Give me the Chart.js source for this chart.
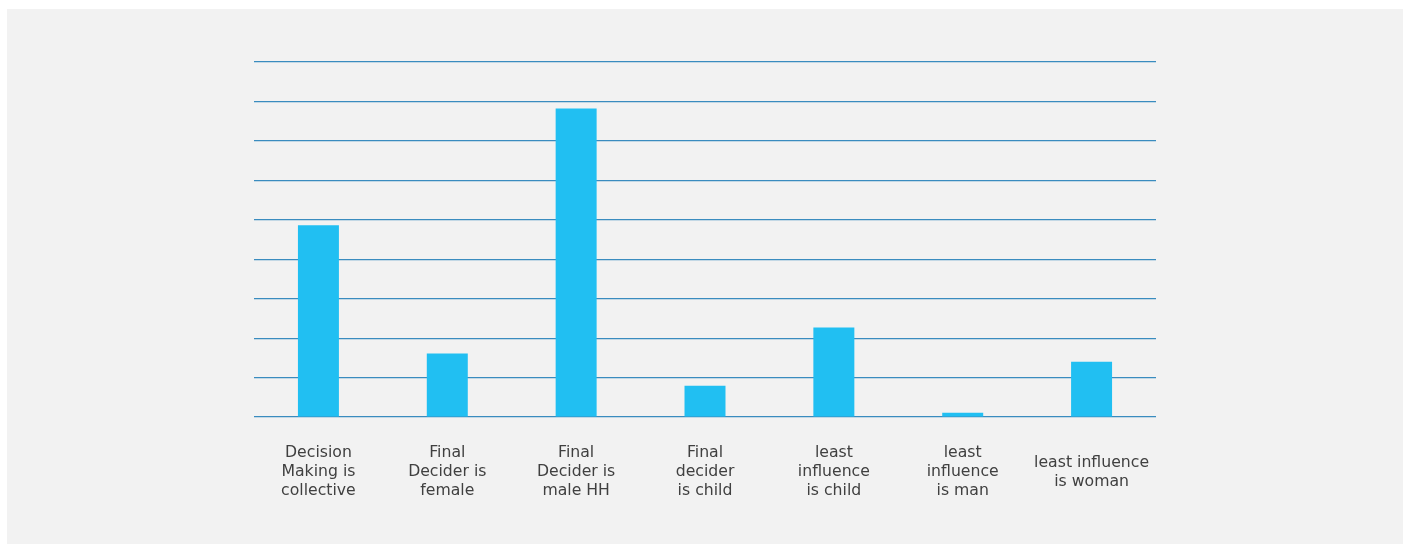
<!DOCTYPE html>
<html>
<head>
<meta charset="utf-8">
<script src="https://cdn.jsdelivr.net/npm/chart.js@4/dist/chart.umd.min.js"></script>
<style>
  html, body { margin: 0; padding: 0; background: #ffffff; }
  #panel {
    position: absolute; left: 7px; top: 9px;
    width: 1396px; height: 535px;
    background: #f2f2f2;
  }
</style>
</head>
<body>
<div id="panel"><canvas id="decisionChart"></canvas></div>
<script>
// categories (multi-line labels) and bar values
const categories = [
  ['Decision', 'Making is', 'collective'],
  ['Final', 'Decider is', 'female'],
  ['Final', 'Decider is', 'male HH'],
  ['Final', 'decider', 'is child'],
  ['least', 'influence', 'is child'],
  ['least', 'influence', 'is man'],
  ['least influence', 'is woman']
];
const values = [48.6, 16.1, 78.2, 7.9, 22.7, 1.1, 14.0];
const yTicks = [0, 10, 20, 30, 40, 50, 60, 70, 80, 90];

const ctx = document.getElementById('decisionChart').getContext('2d');
const decisionChart = new Chart(ctx, {
  type: 'bar',
  data: {
    labels: categories,
    datasets: [{
      data: values,
      backgroundColor: '#21bff2',
      borderWidth: 0,
      categoryPercentage: 1,
      barPercentage: 0.318
    }]
  },
  options: {
    responsive: true,
    maintainAspectRatio: false,
    animation: false,
    layout: { padding: { left: 247, right: 247, top: 53, bottom: 0 } },
    plugins: {
      legend: { display: false },
      tooltip: { enabled: false }
    },
    scales: {
      x: {
        grid: { display: false, drawTicks: false },
        border: { display: false },
        ticks: {
          padding: 36,
          crossAlign: 'center',
          color: '#404040',
          font: { family: 'DejaVu Sans', size: 15.7, lineHeight: 1.21 }
        },
        afterFit: function(scale) { scale.height = 127; }
      },
      y: {
        min: yTicks[0],
        max: yTicks[yTicks.length - 1],
        afterBuildTicks: function(scale) {
          scale.ticks = yTicks.map(v => ({ value: v }));
        },
        grid: { color: '#3a8cbf', lineWidth: 1.2, drawTicks: false },
        border: { display: false },
        ticks: { display: false }
      }
    }
  }
});
</script>
</body>
</html>
